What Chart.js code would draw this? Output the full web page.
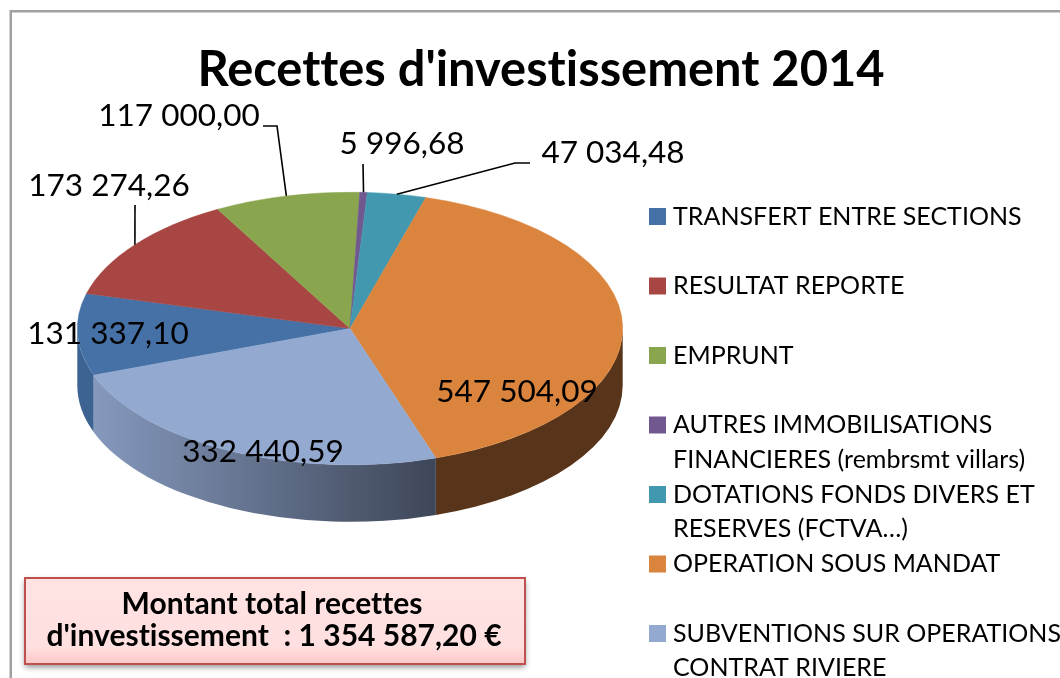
<!DOCTYPE html>
<html><head><meta charset="utf-8">
<style>html,body{margin:0;padding:0;background:#fff;overflow:hidden}canvas{display:block}</style>
<script src="https://cdn.jsdelivr.net/npm/chart.js@4"></script>
</head><body><canvas id="c" width="1060" height="678"></canvas>
<script>
const categories = [
  ['TRANSFERT ENTRE SECTIONS',''],
  ['RESULTAT REPORTE',''],
  ['EMPRUNT',''],
  ['AUTRES IMMOBILISATIONS','FINANCIERES (rembrsmt villars)'],
  ['DOTATIONS FONDS DIVERS ET','RESERVES (FCTVA…)'],
  ['OPERATION SOUS MANDAT',''],
  ['SUBVENTIONS SUR OPERATIONS','CONTRAT RIVIERE']
];
const values = [131337.10,173274.26,117000.00,5996.68,47034.48,547504.09,332440.59];
const colors = ['#4671a6','#a84644','#89a54e','#71588f','#4198af','#db843d','#93a9cf'];
const wallColors = [['#3c6391','#3c6391'],['#7a3230','#7a3230'],['#647a38','#647a38'],['#523f68','#523f68'],['#2f6f80','#2f6f80'],['#58341a','#58341a'],['#8599bd','#3e4658']];
const titleText = "Recettes d'investissement 2014";
const boxLine1 = 'Montant total recettes';
const boxLine2Prefix = "d'investissement  : ";

const FONT = 'Lato';
const PIE_CY = 328.5, SQUASH = 0.5, DEPTH = 57;
// label centres and leader-line knees (annotation layout)
const labelLayout = [
  {x:108,y:334},
  {x:109,y:186,leader:[[135,205]]},
  {x:179,y:116,leader:[[263,126],[277,126]]},
  {x:402,y:144,leader:[[363,164]]},
  {x:613,y:153,leader:[[530,163],[515,163]]},
  {x:517,y:392},
  {x:263,y:452}
];
const fmt = v => {
  const [a,b] = v.toFixed(2).split('.');
  return a.replace(/\B(?=(\d{3})+(?!\d))/g,' ') + ',' + b;
};
const total = values.reduce((s,v)=>s+v,0);

const pie3d = {
  id:'pie3d',
  beforeLayout(chart){
    const lg = chart.legend;
    if(lg && !lg._wrapped){
      const orig = lg.update;
      lg.update = function(w,h,m){ orig.call(this,w,900,m); this.width = 437; };
      lg.draw = function(){ this._draw(); };
      lg._wrapped = true;
    }
  },
  afterLayout(chart){
    const lg = chart.legend;
    lg.left = 654.5; lg.right = 1060; lg.top = 204; lg.bottom = 900;
    chart.titleBlock.left = 22; chart.titleBlock.right = 1060;
  },
  beforeDraw(chart){
    const c = chart.ctx;
    c.letterSpacing = '0.01px';
    c.save();
    c.fillStyle = '#a0a0a0';
    c.fillRect(10,10,1050,2.5);
    c.fillRect(9.5,10,2.5,668);
    c.restore();
  },
  beforeDatasetsDraw(chart){
    const c = chart.ctx, arcs = chart.getDatasetMeta(0).data;
    const TAU = Math.PI*2;
    arcs.forEach((a,i)=>{
      for(let k=-1;k<=1;k++){
        const s = Math.max(a.startAngle+TAU*k,0), e = Math.min(a.endAngle+TAU*k,Math.PI);
        if(e<=s) continue;
        const rx=a.outerRadius, ry=rx*SQUASH, cx=a.x;
        const g = c.createLinearGradient(cx+rx*Math.cos(e),0,cx+rx*Math.cos(s),0);
        g.addColorStop(0,wallColors[i][0]); g.addColorStop(1,wallColors[i][1]);
        c.beginPath();
        c.ellipse(cx,PIE_CY,rx,ry,0,s,e);
        c.ellipse(cx,PIE_CY+DEPTH,rx,ry,0,e,s,true);
        c.closePath();
        c.fillStyle=g; c.fill();
      }
    });
  },
  beforeDatasetDraw(chart){
    const c = chart.ctx, a = chart.getDatasetMeta(0).data[0];
    c.save();
    c.translate(0,PIE_CY); c.scale(1,SQUASH); c.translate(0,-a.y);
  },
  afterDatasetDraw(chart){ chart.ctx.restore(); },
  afterDatasetsDraw(chart){
    const c = chart.ctx, arcs = chart.getDatasetMeta(0).data;
    c.save();
    arcs.forEach((a,i)=>{
      const L = labelLayout[i];
      if(L.leader){
        const m=(a.startAngle+a.endAngle)/2;
        const ex=a.x+a.outerRadius*Math.cos(m), ey=PIE_CY+a.outerRadius*SQUASH*Math.sin(m);
        c.beginPath();
        L.leader.forEach((p,j)=> j?c.lineTo(p[0],p[1]):c.moveTo(p[0],p[1]));
        c.lineTo(ex,ey);
        c.strokeStyle='#000'; c.lineWidth=1.6; c.stroke();
      }
    });
    c.fillStyle='#000'; c.textAlign='center'; c.textBaseline='middle';
    c.font=`31.5px ${FONT}`;
    values.forEach((v,i)=>c.fillText(fmt(v),labelLayout[i].x,labelLayout[i].y));
    // total box
    c.save();
    c.shadowColor='rgba(0,0,0,.45)'; c.shadowBlur=6; c.shadowOffsetY=3;
    const g=c.createLinearGradient(0,577,0,664);
    g.addColorStop(0,'#ffe3e3'); g.addColorStop(.8,'#ffdfdf'); g.addColorStop(1,'#fcc9c9');
    c.fillStyle=g; c.fillRect(25,578,500,86);
    c.restore();
    c.strokeStyle='#c0504d'; c.lineWidth=2; c.strokeRect(25,578,500,86);
    c.fillStyle='#000'; c.font=`bold 30px ${FONT}`;
    c.fillText(boxLine1,272,604);
    c.fillText(boxLine2Prefix+fmt(total)+' €',274,636);
    c.restore();
  }
};

new Chart(document.getElementById('c'),{
  type:'pie',
  data:{labels:categories,datasets:[{data:values,backgroundColor:colors,borderColor:colors,borderWidth:0.6,clip:false}]},
  plugins:[pie3d],
  options:{
    responsive:false,animation:false,rotation:-110,
    layout:{padding:{left:77,right:0,top:0,bottom:0}},
    events:[],
    plugins:{
      tooltip:{enabled:false},
      title:{display:true,text:titleText,color:'#000',font:{family:FONT,weight:'bold',size:48.8,lineHeight:1.2},padding:{top:40.5,bottom:0}},
      legend:{
        position:'right',align:'start',
        labels:{
          padding:0,usePointStyle:true,boxWidth:6,boxHeight:17,color:'#000',
          font:{family:FONT,size:25,lineHeight:34.75/25},
          generateLabels:(chart)=>categories.map((t,i)=>({text:t,fillStyle:colors[i],strokeStyle:colors[i],lineWidth:0,pointStyle:'rect',index:i,hidden:false}))
        }
      }
    }
  }
});
</script></body></html>
